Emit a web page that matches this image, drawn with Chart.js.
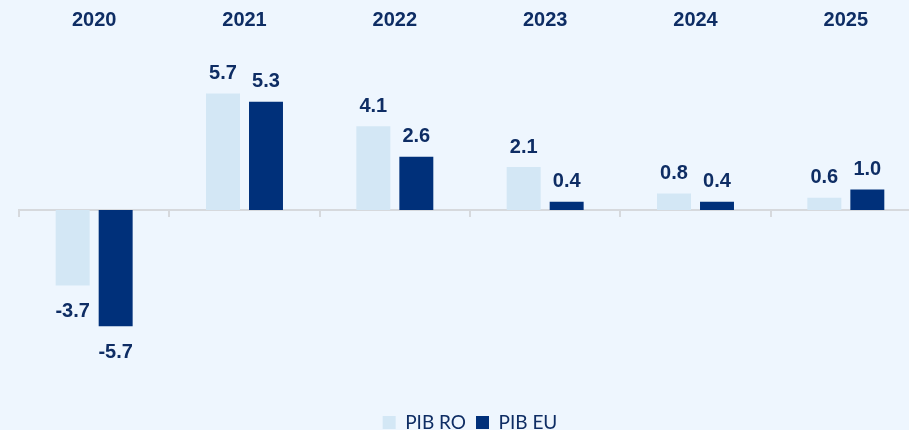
<!DOCTYPE html>
<html>
<head>
<meta charset="utf-8">
<script src="https://cdn.jsdelivr.net/npm/chart.js@4/dist/chart.umd.min.js"></script>
<style>
  html, body { margin: 0; padding: 0; background: #EEF6FE; overflow: hidden; }
  #wrap { width: 925px; height: 430px; position: relative; }
</style>
</head>
<body>
<div id="wrap"><canvas id="grafico"></canvas></div>
<script>
const ani = ['2020', '2021', '2022', '2023', '2024', '2025'];
const pibRO = [-3.7, 5.7, 4.1, 2.1, 0.8, 0.6];
const pibEU = [-5.7, 5.3, 2.6, 0.4, 0.4, 1.0];

const navy = '#0E2D64';

// etichete cu valori deasupra / sub bare
const etichete = {
    id: 'etichete',
    afterDatasetsDraw(chart) {
        const ctx = chart.ctx;
        ctx.save();
        ctx.font = 'bold 20px "Liberation Sans", Arial, sans-serif';
        ctx.fillStyle = navy;
        ctx.textAlign = 'center';
        ctx.textBaseline = 'middle';
        chart.data.datasets.forEach((ds, i) => {
            chart.getDatasetMeta(i).data.forEach((bar, j) => {
                const v = ds.data[j];
                const y = v >= 0 ? bar.y - 20 : bar.y + 26;
                ctx.fillText(v.toFixed(1), bar.x, y);
            });
        });
        ctx.restore();
    }
};

const ctx = document.getElementById('grafico');

const chart = new Chart(ctx, {
    type: 'bar',
    data: {
        labels: ani,
        datasets: [{
            label: 'PIB RO',
            data: pibRO,
            backgroundColor: '#D3E7F5',
            categoryPercentage: 0.572,
            barPercentage: 0.79
        }, {
            label: 'PIB EU',
            data: pibEU,
            backgroundColor: '#00307A',
            categoryPercentage: 0.572,
            barPercentage: 0.79
        }]
    },
    options: {
        responsive: true,
        maintainAspectRatio: false,
        animation: false,
        layout: { padding: { left: 19, right: 4, top: 0, bottom: -12 } },
        plugins: {
            legend: {
                position: 'bottom',
                labels: {
                    boxWidth: 13,
                    boxHeight: 13,
                    padding: 10,
                    color: navy,
                    font: { family: 'Lato, "Open Sans", sans-serif', size: 19 }
                }
            },
            tooltip: { enabled: false }
        },
        scales: {
            x: {
                position: { y: 0 },
                offset: true,
                grid: {
                    offset: true,
                    drawOnChartArea: false,
                    drawTicks: true,
                    tickLength: 6,
                    color: '#D6D9DD',
                    lineWidth: 2
                },
                border: { color: '#D6D9DD', width: 2 },
                ticks: { display: false }
            },
            x2: {
                position: 'top',
                offset: true,
                labels: ani,
                grid: { display: false },
                border: { display: false },
                ticks: {
                    color: navy,
                    padding: 8,
                    font: { family: '"Liberation Sans", Arial, sans-serif', size: 20, weight: 'bold' }
                }
            },
            y: {
                display: false,
                min: -9.46,
                max: 7.93
            }
        }
    },
    plugins: [etichete]
});
</script>
</body>
</html>
